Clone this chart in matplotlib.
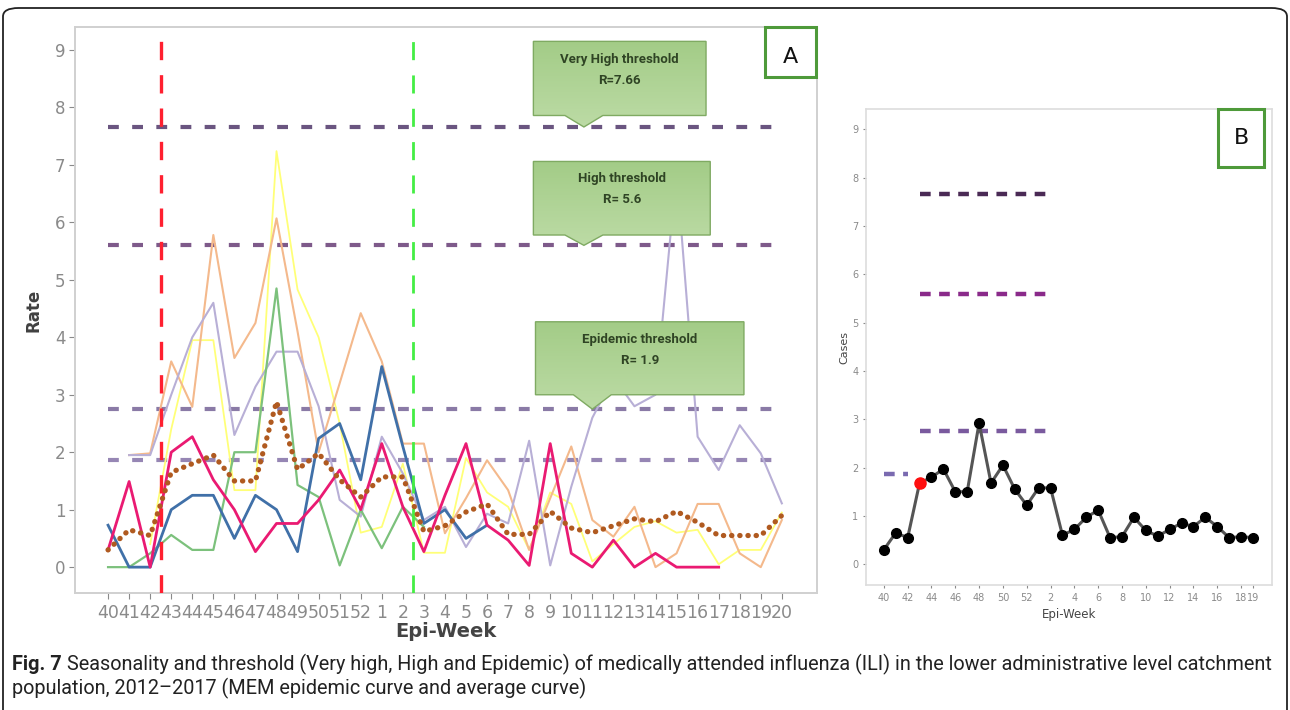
import numpy as np
import matplotlib
matplotlib.use("Agg")
import matplotlib.pyplot as plt
from matplotlib.colors import LinearSegmentedColormap
from matplotlib.patches import FancyBboxPatch, Polygon, Rectangle

nan = np.nan

# epi-weeks of the season (x axis of panel A)
WEEKS_A = [40, 41, 42, 43, 44, 45, 46, 47, 48, 49, 50, 51, 52,
           1, 2, 3, 4, 5, 6, 7, 8, 9, 10, 11, 12, 13, 14, 15, 16, 17, 18, 19, 20]

# seasonal ILI rates, panel A
SEASON_PINK = [0.3, 1.49, 0, 2.0, 2.27, 1.52, 1.0, 0.27, 0.76, 0.76, 1.17, 1.69, 1.0,
               2.15, 1.05, 0.27, 1.25, 2.15, 0.73, 0.47, 0.03, 2.15, 0.24, 0, 0.47, 0,
               0.24, 0, 0, 0, nan, nan, nan]
SEASON_BLUE = [0.73, 0, 0, 1.0, 1.25, 1.25, 0.5, 1.25, 1.0, 0.27, 2.24, 2.5, 1.52,
               3.49, 2.1, 0.76, 1.0, 0.5, 0.73] + [nan] * 14
SEASON_GREEN = [0, 0, 0.24, 0.56, 0.3, 0.3, 2.0, 2.0, 4.85, 1.43, 1.22, 0.03, 1.0,
                0.33, 1.05, 0.7] + [nan] * 17
SEASON_ORANGE = [nan, 1.95, 1.98, 3.58, 2.79, 5.78, 3.64, 4.25, 6.07, 4.1, 2.0, 3.2, 4.42,
                 3.58, 2.15, 2.15, 0.59, 1.2, 1.86, 1.34, 0.3, 1.2, 2.1, 0.82, 0.53, 1.05,
                 0, 0.24, 1.1, 1.1, 0.24, 0, 0.82]
SEASON_LAVENDER = [nan, 1.95, 1.95, 3.0, 4.0, 4.6, 2.3, 3.14, 3.75, 3.75, 2.8, 1.17, 0.88,
                   2.27, 1.63, 0.82, 1.05, 0.35, 0.93, 0.76, 2.2, 0.03, 1.4, 2.6, 3.3, 2.8,
                   3.0, 6.9, 2.27, 1.69, 2.47, 1.98, 1.11]
SEASON_YELLOW = [nan, nan, 0.4, 2.4, 3.95, 3.95, 1.34, 1.34, 7.24, 4.83, 4.0, 2.5, 0.6,
                 0.7, 1.8, 0.25, 0.25, 1.9, 1.3, 1.05, 0.3, 1.3, 1.1, 0.1, 0.4, 0.7,
                 0.8, 0.6, 0.65, 0.05, 0.3, 0.3, 0.95]
AVERAGE_CURVE = [0.3, 0.65, 0.55, 1.65, 1.8, 1.95, 1.5, 1.5, 2.88, 1.7, 1.98, 1.52, 1.22,
                 1.57, 1.57, 0.62, 0.72, 0.96, 1.1, 0.57, 0.57, 0.97, 0.68, 0.6, 0.72, 0.84,
                 0.79, 0.97, 0.78, 0.55, 0.55, 0.55, 0.9]

# MEM thresholds
THRESHOLDS = [7.66, 5.6, 2.75, 1.87]
THRESHOLD_COLORS_A = ["#6a5580", "#7e5a8a", "#8a7aa6", "#9686b4"]
CALLOUT_TEXT = ["Very High threshold\nR=7.66", "High threshold\nR= 5.6",
                "Epidemic threshold\nR= 1.9"]
CALLOUT_TARGET = [7.66, 5.6, 2.75]
SEASON_START_WEEK = 43   # red line sits just before it
SEASON_END_WEEK = 3      # green line sits just before it

# panel B: MEM epidemic curve
WEEKS_B = WEEKS_A[:32]
MEM_CURVE = [0.3, 0.65, 0.55, 1.68, 1.8, 1.97, 1.5, 1.5, 2.92, 1.68, 2.05, 1.55, 1.22,
             1.58, 1.58, 0.6, 0.72, 0.97, 1.12, 0.55, 0.57, 0.97, 0.7, 0.58, 0.72, 0.85,
             0.78, 0.97, 0.78, 0.55, 0.57, 0.55]
B_TICK_WEEKS = [40, 42, 44, 46, 48, 50, 52, 2, 4, 6, 8, 10, 12, 14, 16, 18, 19]
B_THRESHOLD_SPAN = [(43, 2), (43, 2), (43, 2), (40, 42)]
B_THRESHOLD_COLORS = ["#4a2a55", "#8a2a8a", "#7a5a9e", "#7a6ab0"]
EPIDEMIC_START_B = 43

CAPTION_BOLD = "Fig. 7"
CAPTION_LINE1 = ("Seasonality and threshold (Very high, High and Epidemic) of medically "
                 "attended influenza (ILI) in the lower administrative level catchment")
CAPTION_LINE2 = "population, 2012\u20132017 (MEM epidemic curve and average curve)"

CAPTION_FONT = "Roboto"


def draw_callout(ax, x0, x1, y0, y1, tip_x, tip_y, text):
    half = 0.9
    pts = [(x0, y0), (tip_x - half, y0), (tip_x, tip_y), (tip_x + half, y0),
           (x1, y0), (x1, y1), (x0, y1)]
    poly = Polygon(pts, closed=True, facecolor="none", edgecolor="#7faa62",
                   linewidth=1.0, zorder=6)
    ax.add_patch(poly)
    grad = np.linspace(0, 1, 64).reshape(-1, 1)
    im = ax.imshow(grad, extent=(x0, x1, tip_y, y1), origin="upper",
                   cmap=LinearSegmentedColormap.from_list("g", ["#a3cc87", "#bcdba5"]),
                   aspect="auto", zorder=5, interpolation="bilinear")
    im.set_clip_path(poly)
    ax.text((x0 + x1) / 2, y1 - (y1 - y0) * 0.38, text, ha="center", va="center",
            fontsize=9.5, fontweight="bold", color="#2f4424", family=CAPTION_FONT,
            linespacing=1.8, zorder=7)


def add_caption(fig):
    renderer = fig.canvas.get_renderer()
    size = 14.0
    left, right = 12, 1276
    for _ in range(3):
        for t in list(fig.texts):
            if getattr(t, "_is_caption", False):
                t.remove()
        t0 = fig.text(left / 1290, 1 - 664 / 710, CAPTION_BOLD, fontsize=size,
                      fontweight="bold", family=CAPTION_FONT, va="center", color="#222222")
        t0._is_caption = True
        bb = t0.get_window_extent(renderer)
        t1 = fig.text((bb.x1 + size * 0.35) / 1290, 1 - 664 / 710, CAPTION_LINE1,
                      fontsize=size, family=CAPTION_FONT, va="center", color="#222222")
        t1._is_caption = True
        t2 = fig.text(left / 1290, 1 - 688 / 710, CAPTION_LINE2, fontsize=size,
                      family=CAPTION_FONT, va="center", color="#222222")
        t2._is_caption = True
        end = t1.get_window_extent(renderer).x1
        size = size * (right - left) / (end - left)


def main() -> None:
    fig = plt.figure(figsize=(12.9, 7.1), dpi=100)

    # ---------------- panel A ----------------
    ax = fig.add_axes([75 / 1290, 1 - 593 / 710, 742 / 1290, 566 / 710])
    x = np.arange(len(WEEKS_A))

    for val, col in zip(THRESHOLDS, THRESHOLD_COLORS_A):
        ax.plot([x[0], x[-1]], [val, val], color=col, linewidth=3.0,
                dashes=(2.6, 3.2), zorder=2)

    ax.plot(x, SEASON_YELLOW, color="#ffff78", linewidth=1.3, zorder=3)
    ax.plot(x, SEASON_ORANGE, color="#f4b98c", linewidth=1.5, zorder=3)
    ax.plot(x, SEASON_LAVENDER, color="#b8afd6", linewidth=1.5, zorder=3)
    ax.plot(x, SEASON_GREEN, color="#7cc17c", linewidth=1.6, zorder=3)
    ax.plot(x, SEASON_BLUE, color="#4070a8", linewidth=2.0, zorder=3)
    ax.plot(x, SEASON_PINK, color="#ea1a72", linewidth=2.0, zorder=3)
    ax.plot(x, AVERAGE_CURVE, color="#b05a20", linewidth=3.8, linestyle=(0, (0.05, 1.5)),
            dash_capstyle="round", zorder=4)

    red_x = WEEKS_A.index(SEASON_START_WEEK) - 0.5
    green_x = WEEKS_A.index(SEASON_END_WEEK) - 0.5
    ax.plot([red_x, red_x], [-0.45, 9.2], color="#ff2030", linewidth=2.4,
            dashes=(5.5, 4.5), zorder=3)
    ax.plot([green_x, green_x], [-0.45, 9.3], color="#44ee44", linewidth=2.0,
            dashes=(6.5, 5.5), zorder=3)

    boxes = [(20.2, 28.4, 7.86, 9.15), (20.2, 28.6, 5.78, 7.06), (20.3, 30.2, 3.0, 4.27)]
    tips = [22.6, 22.6, 23.0]
    for (x0, x1, y0, y1), tx, ty, txt in zip(boxes, tips, CALLOUT_TARGET, CALLOUT_TEXT):
        draw_callout(ax, x0, x1, y0, y1, tx, ty, txt)

    ax.set_xlim(-1.57, 33.67)
    ax.set_ylim(-0.45, 9.4)
    ax.set_xticks(x)
    ax.set_xticklabels([str(w) for w in WEEKS_A])
    ax.set_yticks(range(10))
    ax.tick_params(axis="x", labelsize=12.5, colors="#8a8a8a", length=4, pad=4)
    ax.tick_params(axis="y", labelsize=12, colors="#8a8a8a", length=4, pad=3)
    for sp in ax.spines.values():
        sp.set_color("#d0d0d0")
        sp.set_linewidth(1.4)
    ax.set_ylabel("Rate", fontsize=12, fontweight="bold", color="#404040", labelpad=9)
    ax.set_xlabel("Epi-Week", fontsize=14, fontweight="bold", color="#444444", labelpad=0)

    fig.patches.append(Rectangle((765 / 1290, 1 - 77 / 710), 51 / 1290, 50 / 710,
                                 transform=fig.transFigure, facecolor="white",
                                 edgecolor="#4e9a3a", linewidth=2.2, zorder=10))
    fig.text(790 / 1290, 1 - 57 / 710, "A", fontsize=16, ha="center", va="center",
             color="#111111", zorder=11)

    # ---------------- panel B ----------------
    bx = fig.add_axes([866 / 1290, 1 - 585 / 710, 406 / 1290, 476 / 710])
    xb = np.arange(len(WEEKS_B))
    for (w0, w1), val, col in zip(B_THRESHOLD_SPAN, THRESHOLDS, B_THRESHOLD_COLORS):
        i0, i1 = WEEKS_B.index(w0), WEEKS_B.index(w1)
        bx.plot([i0, i1], [val, val], color=col, linewidth=3.2, dashes=(2.4, 1.9))
    bx.plot(xb, MEM_CURVE, color="#555555", linewidth=2.2, marker="o", markersize=7,
            markerfacecolor="black", markeredgecolor="black")
    ri = WEEKS_B.index(EPIDEMIC_START_B)
    bx.plot([xb[ri]], [MEM_CURVE[ri]], marker="o", markersize=8, color="#ff1010",
            linestyle="none", zorder=5)
    bx.set_xlim(-1.5, 32.6)
    bx.set_ylim(-0.43, 9.42)
    bx.set_xticks([WEEKS_B.index(w) for w in B_TICK_WEEKS])
    bx.set_xticklabels([str(w) for w in B_TICK_WEEKS])
    bx.set_yticks(range(10))
    bx.tick_params(axis="both", labelsize=7, colors="#8a8a8a", length=2.5, pad=3)
    for sp in bx.spines.values():
        sp.set_color("#dddddd")
        sp.set_linewidth(1.2)
    bx.set_ylabel("Cases", fontsize=8, color="#444444", labelpad=2)
    bx.set_xlabel("Epi-Week", fontsize=8.5, color="#444444", labelpad=4)

    fig.patches.append(Rectangle((1218 / 1290, 1 - 167 / 710), 46 / 1290, 58 / 710,
                                 transform=fig.transFigure, facecolor="white",
                                 edgecolor="#4e9a3a", linewidth=2.2, zorder=10))
    fig.text(1241 / 1290, 1 - 138 / 710, "B", fontsize=16, ha="center", va="center",
             color="#111111", zorder=11)

    # frame and caption
    fig.patches.append(FancyBboxPatch((3 / 1290, -0.05), 1284 / 1290, 1.05 - 8 / 710,
                                      boxstyle="round,pad=0,rounding_size=0.012",
                                      transform=fig.transFigure, facecolor="none",
                                      edgecolor="#222222", linewidth=1.3))
    add_caption(fig)

    fig.savefig("out.png", dpi=100)
    plt.close(fig)


if __name__ == "__main__":
    main()
